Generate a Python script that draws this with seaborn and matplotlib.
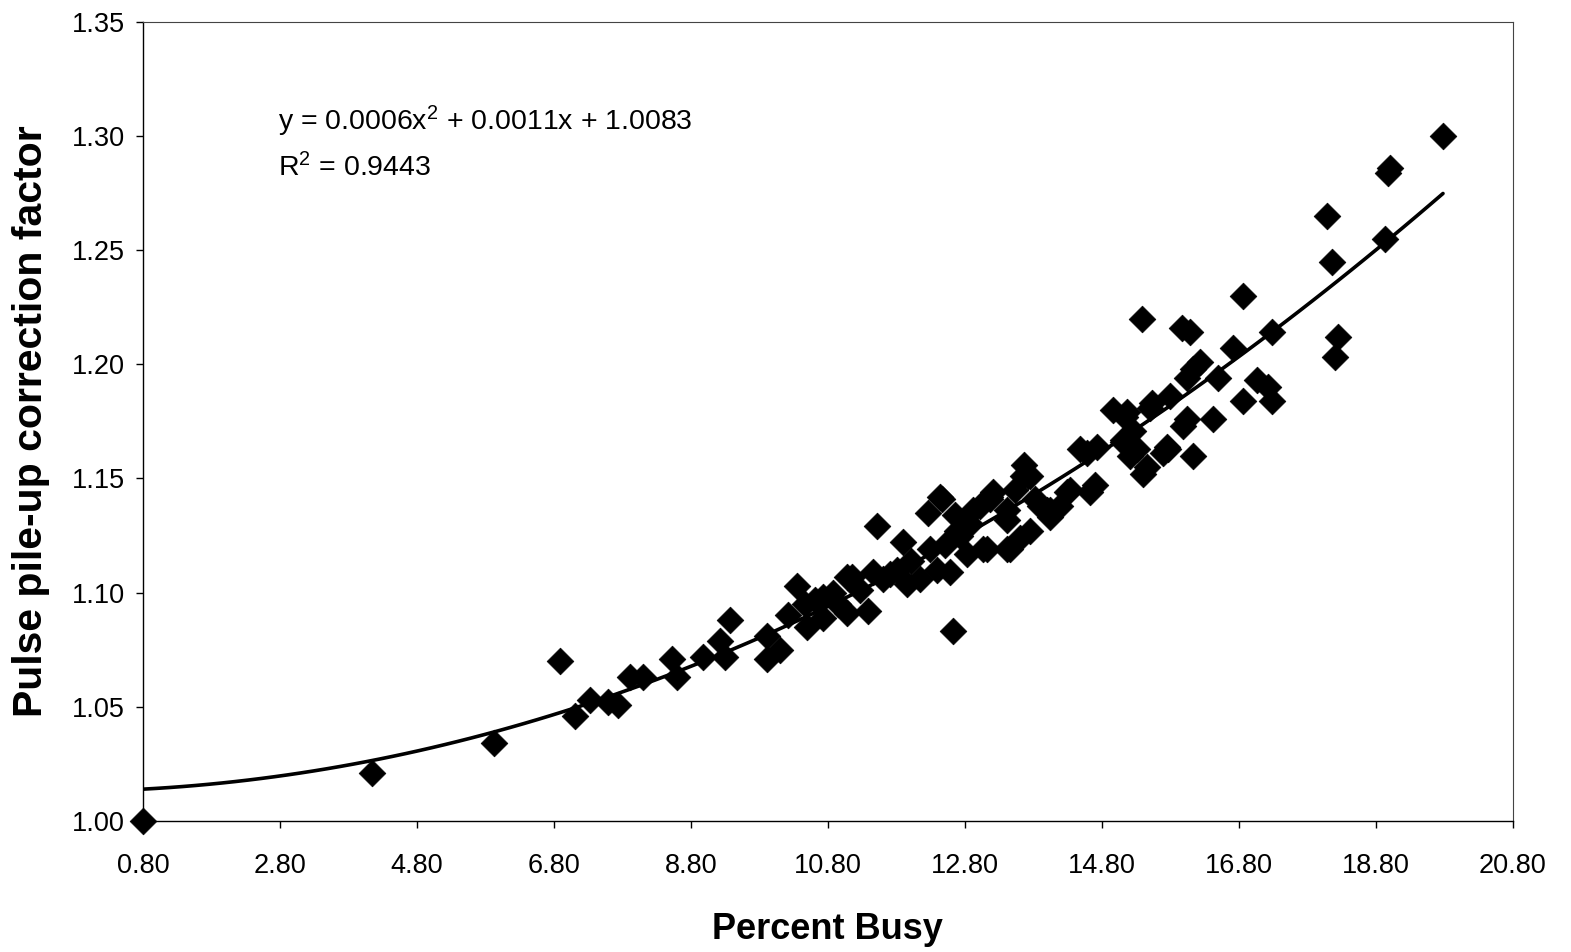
import numpy as np
import pandas as pd
import matplotlib
matplotlib.use("Agg")
import matplotlib.pyplot as plt
import seaborn as sns

# ---- data ----
percent_busy = [
    0.80, 4.14, 5.92, 6.89, 7.11, 7.33, 7.59, 7.73, 7.91, 8.10,
    8.52, 8.60, 8.98, 9.22, 9.37, 9.30, 9.91, 9.91, 10.10, 10.22,
    10.35, 10.49, 10.73, 10.73, 10.87, 11.08, 11.15, 11.52, 11.89, 12.26,
    12.46, 12.62, 11.38, 11.46, 11.60, 11.81, 11.95, 12.14, 12.39, 12.58,
    13.02, 13.21, 13.12, 13.46, 13.60, 13.41, 13.65, 13.89, 14.04, 14.33,
    14.63, 14.58, 14.73, 15.11, 15.40, 15.69, 15.25, 13.72, 13.16, 14.00,
    15.38, 16.86, 15.97, 16.09, 16.71, 17.28, 16.13, 16.04, 16.49, 17.06,
    17.22, 16.86, 17.28, 15.79, 15.50, 14.96, 15.14, 16.42, 16.13, 15.98,
    15.75, 15.46, 15.21, 18.09, 18.93, 18.16, 18.25, 18.20, 16.23, 18.98,
    19.00, 19.78,
    12.43, 13.16, 13.75, 14.29, 14.04, 13.75, 13.41, 13.06, 12.83, 12.68,
    12.92, 13.41,
    15.16, 15.53, 15.76, 15.11, 14.48, 16.04, 15.31, 14.70,
    11.08, 11.27, 11.70, 12.02, 12.29, 12.51, 12.73, 12.87, 12.65,
    10.47, 10.61, 10.94, 13.53, 13.82, 14.19, 13.67,
]
correction_factor = [
    1.000, 1.021, 1.034, 1.070, 1.046, 1.053, 1.052, 1.051, 1.063, 1.063,
    1.071, 1.063, 1.072, 1.079, 1.088, 1.072, 1.081, 1.071, 1.075, 1.090,
    1.103, 1.085, 1.089, 1.098, 1.100, 1.091, 1.107, 1.129, 1.122, 1.135,
    1.141, 1.083, 1.092, 1.109, 1.106, 1.110, 1.104, 1.106, 1.110, 1.109,
    1.138, 1.144, 1.119, 1.119, 1.124, 1.132, 1.151, 1.138, 1.136, 1.145,
    1.144, 1.161, 1.164, 1.166, 1.152, 1.161, 1.171, 1.151, 1.141, 1.136,
    1.220, 1.230, 1.216, 1.214, 1.207, 1.214, 1.198, 1.194, 1.194, 1.193,
    1.190, 1.184, 1.184, 1.186, 1.181, 1.180, 1.177, 1.176, 1.160, 1.173,
    1.164, 1.155, 1.160, 1.265, 1.255, 1.245, 1.212, 1.203, 1.201, 1.284,
    1.286, 1.300,
    1.142, 1.142, 1.151, 1.144, 1.133, 1.127, 1.119, 1.119, 1.117, 1.127,
    1.136, 1.136,
    1.179, 1.183, 1.163, 1.167, 1.163, 1.176, 1.163, 1.147,
    1.107, 1.101, 1.108, 1.114, 1.119, 1.121, 1.125, 1.130, 1.134,
    1.095, 1.097, 1.095, 1.145, 1.141, 1.138, 1.156,
]
x_ticks = [0.80, 2.80, 4.80, 6.80, 8.80, 10.80, 12.80, 14.80, 16.80, 18.80, 20.80]
y_ticks = [1.00, 1.05, 1.10, 1.15, 1.20, 1.25, 1.30, 1.35]
equation_text = r"y = 0.0006x$^{2}$ + 0.0011x + 1.0083"
r2_text = r"R$^{2}$ = 0.9443"
x_label = "Percent Busy"
y_label = "Pulse pile-up correction factor"

df = pd.DataFrame({"busy": percent_busy, "factor": correction_factor})

sns.set_theme(style="white")
plt.rcParams["font.family"] = ["Liberation Sans", "DejaVu Sans"]
plt.rcParams["mathtext.fontset"] = "custom"
plt.rcParams["mathtext.rm"] = "Liberation Sans"
plt.rcParams["mathtext.it"] = "Liberation Sans"

fig = plt.figure(figsize=(15.71, 9.52), dpi=100)
ax = fig.add_axes([0.091, 0.1376, 0.872, 0.8395])

sns.regplot(data=df, x="busy", y="factor", order=2, ci=None, scatter=False,
            line_kws={"color": "black", "lw": 2.6}, ax=ax)
sns.scatterplot(data=df, x="busy", y="factor", marker="D", s=185,
                color="black", edgecolor="black", linewidth=0.5, ax=ax,
                zorder=3, clip_on=False)

ax.set_xlim(x_ticks[0], x_ticks[-1])
ax.set_ylim(y_ticks[0], y_ticks[-1])
ax.set_xticks(x_ticks)
ax.set_yticks(y_ticks)
ax.set_xticklabels([f"{v:.2f}" for v in x_ticks])
ax.set_yticklabels([f"{v:.2f}" for v in y_ticks])
for lab in ax.get_xticklabels() + ax.get_yticklabels():
    lab.set_fontsize(19.5)
    lab.set_color("black")
ax.tick_params(axis="x", direction="out", length=5, width=1, color="black",
               bottom=True, pad=18)
ax.tick_params(axis="y", direction="out", length=5, width=1, color="black",
               left=True, pad=8)

ax.set_xlabel(x_label, fontsize=26, fontweight="bold", labelpad=24,
              color="black")
ax.set_ylabel(y_label, fontsize=29.5, fontweight="bold", labelpad=16,
              color="black")

for sp in ax.spines.values():
    sp.set_color("black")
    sp.set_linewidth(1.0)
for sp in ["top", "right"]:
    ax.spines[sp].set_linewidth(0.8)
    ax.spines[sp].set_color("#444444")

ax.text(0.0985, 0.875, equation_text, transform=ax.transAxes, fontsize=20.5,
        va="center", ha="left", color="black")
ax.text(0.0985, 0.818, r2_text, transform=ax.transAxes, fontsize=20.5,
        va="center", ha="left", color="black")

fig.savefig("out.png", dpi=100, facecolor="white")
